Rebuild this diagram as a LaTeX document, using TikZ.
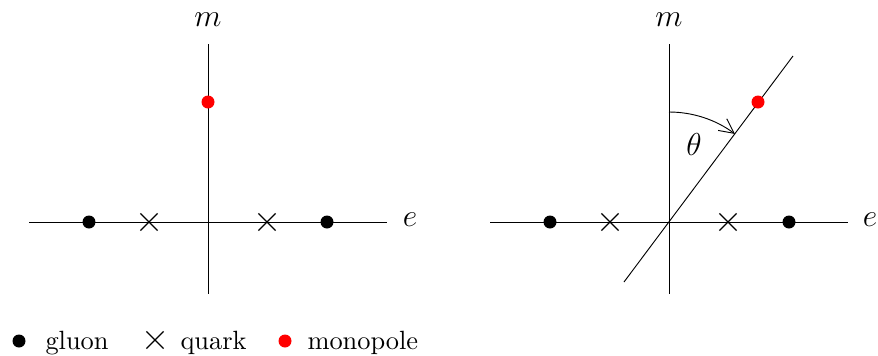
\documentclass[tikz,border=0pt]{standalone}
\usetikzlibrary{arrows.meta,shapes.misc}
\begin{document}
\begin{tikzpicture}[x=0.379pt,y=-0.379pt,
  gluon/.style={circle,fill=black,inner sep=0pt,minimum size=13*0.379pt},
  mono/.style={circle,fill=red,inner sep=0pt,minimum size=13*0.379pt},
  quark/.style={cross out,draw=black,line width=0.45pt,inner sep=0pt,minimum size=16*0.379pt},
  axis/.style={line width=0.35pt,black},
  lbl/.style={inner sep=0pt},
  legtext/.style={anchor=base west,inner sep=0pt}]
\useasboundingbox (0,0) rectangle (878,356);
% ---------- left diagram ----------
\coordinate (Lw) at (29,222);
\coordinate (Le) at (387,222);
\coordinate (Ln) at (208,44);
\coordinate (Ls) at (208,294);
\draw[axis] (Lw) -- (Le);
\draw[axis] (Ln) -- (Ls);
\node[lbl] (Lm) at (208,20) {\large $m$};
\node[lbl] (Lel) at (410,220) {\large $e$};
\node[gluon] (Lg1) at (89,222) {};
\node[gluon] (Lg2) at (327,222) {};
\node[quark] (Lq1) at (149,222) {};
\node[quark] (Lq2) at (267,222) {};
\node[mono] (Lmp) at (208,102) {};
% ---------- right diagram ----------
\coordinate (O) at (669,222);
\coordinate (Rw) at (490,222);
\coordinate (Re) at (848,222);
\coordinate (Rn) at (669,44);
\coordinate (Rs) at (669,294);
\coordinate (Rt) at (793,56);
\coordinate (Rb) at (624,282);
\draw[axis] (Rw) -- (Re);
\draw[axis] (Rn) -- (Rs);
\draw[axis] (Rb) -- (Rt);
\node[lbl] (Rm) at (669,20) {\large $m$};
\node[lbl] (Rel) at (870,220) {\large $e$};
\node[gluon] (Rg1) at (550,222) {};
\node[gluon] (Rg2) at (789,222) {};
\node[quark] (Rq1) at (610,222) {};
\node[quark] (Rq2) at (728,222) {};
\node[mono] (Rmp) at (758,102) {};
\coordinate (A0) at (669,112);
\draw[line width=0.35pt,-{Straight Barb[length=5.5pt,width=5.5pt]}] (A0) arc[start angle=-90,end angle=-53.2,radius=110];
\node[lbl] (th) at (694,145) {\large $\theta$};
% ---------- legend ----------
\node[gluon] (kg) at (19,341) {};
\node[legtext] (kgt) at (45,349) {gluon};
\node[quark] (kq) at (155,340) {};
\node[legtext] (kqt) at (180,349) {quark};
\node[mono] (km) at (285,341) {};
\node[legtext] (kmt) at (307,349) {monopole};
\end{tikzpicture}
\end{document}
